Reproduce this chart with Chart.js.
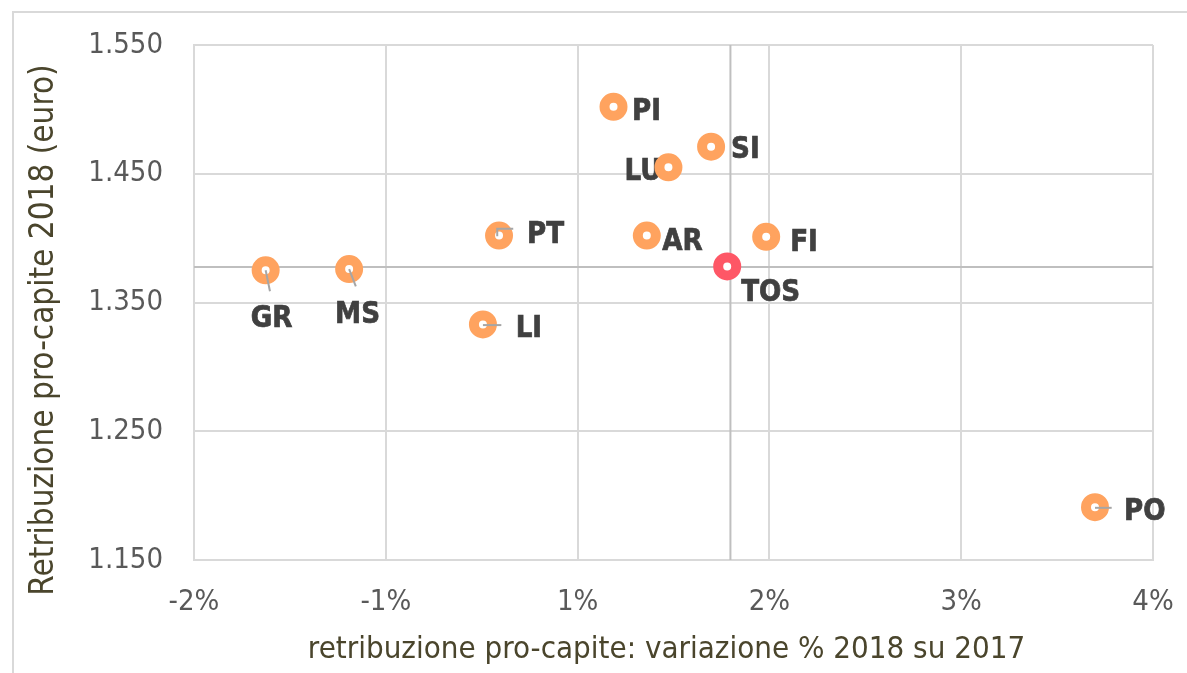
<!DOCTYPE html>
<html><head><meta charset="utf-8">
<script src="https://cdn.jsdelivr.net/npm/chart.js@4.4.1/dist/chart.umd.min.js"></script>
<style>html,body{margin:0;padding:0;background:#fff;} canvas{display:block;}</style>
</head><body>
<canvas id="c" width="1187" height="673" style="width:1187px;height:673px"></canvas>
<script>
// ---- data ----
const provinceNames = ['GR','MS','LI','PT','PI','SI','LU','AR','FI','PO'];
const provinceVariation = [-1.533,-0.989,-0.117,-0.012,0.734,1.370,1.092,0.951,1.729,3.872];
const provinceWage = [1375,1376,1333,1402,1502,1471,1455,1402,1401,1191];
const regionNames = ['TOS'];
const regionVariation = [1.475];
const regionWage = [1378];
const referenceX = [1.496];
const referenceY = [1377.5];
const xTickValues = [-2,-0.75,0.5,1.75,3,4.25];
const xTickLabels = ['-2%','-1%','1%','2%','3%','4%'];
const yTickValues = [1150,1250,1350,1450,1550];
const yTickLabels = ['1.150','1.250','1.350','1.450','1.550'];
const xTitle = 'retribuzione pro-capite: variazione % 2018 su 2017';
const yTitle = 'Retribuzione pro-capite 2018 (euro)';

// ---- styling ----
const FONT = '"DejaVu Sans Condensed", "DejaVu Sans", sans-serif';
const ORANGE = '#ffa35f';
const RED = '#fe5766';
const GRID = '#d9d9d9';
const REF = '#bfbfbf';
const labelPlacement = {
  PI:{dx:18.5,dy:2.3,align:'left'},
  SI:{dx:20,dy:0,align:'left'},
  LU:{dx:-7,dy:1.2,align:'right'},
  AR:{dx:15.4,dy:3,align:'left'},
  FI:{dx:24,dy:3.3,align:'left'},
  TOS:{dx:14,dy:23.3,align:'left'},
  PT:{dx:28,dy:-4,align:'left', leader:[[-1.8,0.7],[-1.8,-6.7],[14.2,-6.7]]},
  GR:{dx:6,dy:45.3,align:'center', leader:[[0,0],[4.3,21]]},
  MS:{dx:8.4,dy:42.7,align:'center', leader:[[0,0],[6.7,17.4]]},
  LI:{dx:32.7,dy:1.7,align:'left', leader:[[0,0.7],[18.4,0.7]]},
  PO:{dx:29,dy:1.6,align:'left', leader:[[0,0.6],[16.7,0.6]]}
};
const LABEL_SIZE = 31;
const LABEL_SX = 0.94;

const toPoints = (xs, ys) => xs.map((x,i)=>({x, y: ys[i]}));
const xMin = xTickValues[0], xMax = xTickValues[xTickValues.length-1];
const yMin = yTickValues[0], yMax = yTickValues[yTickValues.length-1];

const frame = {
  id:'frame',
  beforeDraw(chart){
    const ctx = chart.ctx;
    ctx.save();
    ctx.fillStyle = '#fff';
    ctx.fillRect(0,0,chart.width,chart.height);
    ctx.strokeStyle = GRID; ctx.lineWidth = 2;
    ctx.strokeRect(13, 12, 3000, 3000);
    ctx.restore();
  },
  afterDraw(chart){
    const ctx = chart.ctx;
    ctx.save();
    ctx.fillStyle = '#4a452c';
    ctx.textAlign = 'center'; ctx.textBaseline = 'alphabetic';
    ctx.font = '31px ' + FONT;
    ctx.fillText(xTitle, 666.5, 658);
    ctx.font = '33px ' + FONT;
    ctx.translate(53, 330);
    ctx.rotate(-Math.PI/2);
    ctx.fillText(yTitle, 0, 0);
    ctx.restore();
  }
};

function eachLabel(chart, fn){
  [[0, provinceNames],[1, regionNames]].forEach(([di, names])=>{
    const meta = chart.getDatasetMeta(di);
    meta.data.forEach((pt,i)=>{ fn(names[i], pt.x, pt.y); });
  });
}

const labels = {
  id:'labels',
  beforeDatasetDraw(chart, args){
    if (args.index !== 0) return;
    const ctx = chart.ctx;
    const capH = 0.729 * LABEL_SIZE;
    eachLabel(chart, (name, px, py)=>{
      const p = labelPlacement[name];
      ctx.save();
      ctx.font = 'bold ' + LABEL_SIZE + 'px ' + FONT;
      ctx.fillStyle = '#404040';
      ctx.strokeStyle = '#404040';
      ctx.lineWidth = 0.7;
      ctx.textBaseline = 'alphabetic';
      ctx.textAlign = p.align;
      ctx.translate(px + p.dx, py + p.dy + capH/2);
      ctx.scale(LABEL_SX, 1);
      ctx.fillText(name, 0, 0);
      ctx.strokeText(name, 0, 0);
      ctx.restore();
    });
  },
  afterDatasetsDraw(chart){
    const ctx = chart.ctx;
    ctx.save();
    ctx.strokeStyle = '#a6a6a6'; ctx.lineWidth = 2;
    eachLabel(chart, (name, px, py)=>{
      const p = labelPlacement[name];
      if (!p.leader) return;
      ctx.beginPath();
      p.leader.forEach(([lx,ly],k)=>{ k ? ctx.lineTo(px+lx, py+ly) : ctx.moveTo(px+lx, py+ly); });
      ctx.stroke();
    });
    ctx.restore();
  }
};

new Chart(document.getElementById('c'), {
  type:'scatter',
  data:{
    datasets:[
      { data: toPoints(provinceVariation, provinceWage), order:1,
        pointRadius:9, pointHoverRadius:9, pointBorderWidth:10, pointHoverBorderWidth:10,
        pointBackgroundColor:'#fff', pointBorderColor:ORANGE },
      { data: toPoints(regionVariation, regionWage), order:0,
        pointRadius:9, pointHoverRadius:9, pointBorderWidth:10, pointHoverBorderWidth:10,
        pointBackgroundColor:'#fff', pointBorderColor:RED },
      { data: [{x:xMin,y:referenceY[0]},{x:xMax,y:referenceY[0]}], order:2, showLine:true,
        pointRadius:0, borderColor:REF, borderWidth:2 },
      { data: [{x:referenceX[0],y:yMin},{x:referenceX[0],y:yMax}], order:2, showLine:true,
        pointRadius:0, borderColor:REF, borderWidth:2 }
    ]
  },
  options:{
    responsive:false, animation:false, devicePixelRatio:1,
    layout:{ padding:{ left:0, top:45, right:34, bottom:0 } },
    plugins:{ legend:{display:false}, tooltip:{enabled:false} },
    events:[],
    scales:{
      x:{ type:'linear', min:xMin, max:xMax,
        afterBuildTicks(s){ s.ticks = xTickValues.map(v=>({value:v})); },
        afterFit(s){ s.height = 113; s.paddingLeft = 0; s.paddingRight = 0; },
        ticks:{ callback:(v,i)=>xTickLabels[i], color:'#595959', padding:25,
          font:{ family:FONT, size:29 }, maxRotation:0, autoSkip:false },
        grid:{ color:GRID, lineWidth:2, drawTicks:false },
        border:{ display:true, color:GRID, width:2 }
      },
      y:{ type:'linear', min:yMin, max:yMax,
        afterBuildTicks(s){ s.ticks = yTickValues.map(v=>({value:v})); },
        afterFit(s){ s.width = 194; s.paddingTop = 0; s.paddingBottom = 0; },
        ticks:{ callback:(v,i)=>yTickLabels[i], color:'#595959', padding:31,
          font:{ family:FONT, size:29 }, autoSkip:false },
        grid:{ color:GRID, lineWidth:2, drawTicks:false },
        border:{ display:true, color:GRID, width:2 }
      }
    }
  },
  plugins:[frame, labels]
});
</script>
</body></html>
